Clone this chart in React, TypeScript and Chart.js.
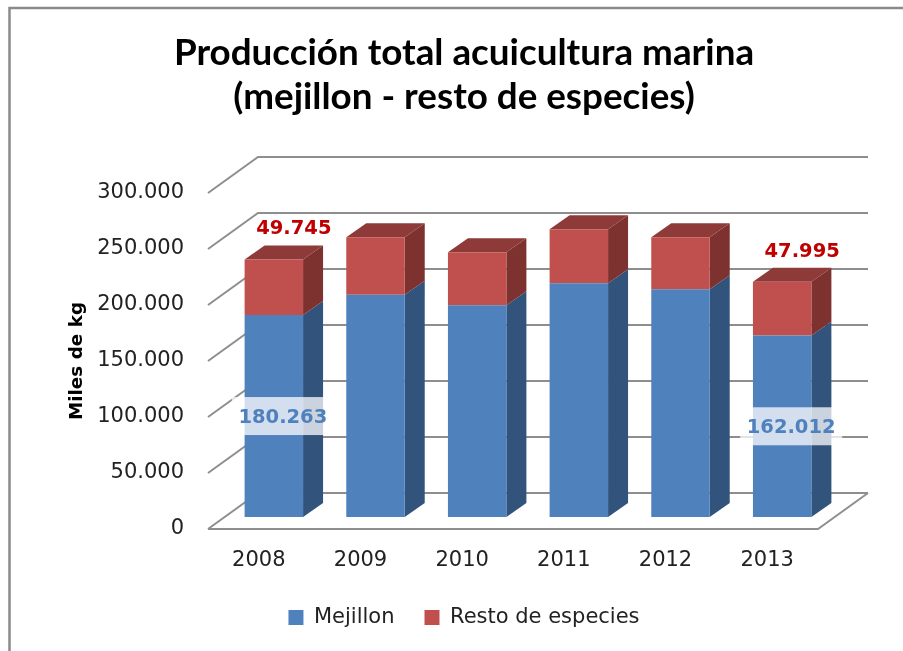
import React, { useEffect, useRef } from "react";
import { Chart, registerables } from "chart.js";

Chart.register(...registerables);

const years = ["2008", "2009", "2010", "2011", "2012", "2013"];
const mejillon = [180263, 198400, 189000, 208700, 203300, 162012];
const resto = [49745, 51400, 47400, 48300, 46500, 47995];
const labelledYears = ["2008", "2013"];
const titleLines = ["Producción total acuicultura marina", "(mejillon - resto de especies)"];

const FONT = "'DejaVu Sans'";
const GRID = "#8e8e8e";
// Oblique projection of the pseudo-3D chart
const WALL = { dx: 50, dy: -36 };
const BAR_SHIFT = { dx: 15, dy: -12 };
const BAR_DEPTH = { dx: 20, dy: -14 };
const FACES = [
  { side: "#32547c", top: "#3f6796" },
  { side: "#7d3230", top: "#8e3a38" },
];

const fmt = (v: number) => String(Math.round(v)).replace(/\B(?=(\d{3})+$)/g, ".");

const poly = (ctx: CanvasRenderingContext2D, pts: number[][], fill: string) => {
  ctx.beginPath();
  pts.forEach(([x, y], i) => (i ? ctx.lineTo(x, y) : ctx.moveTo(x, y)));
  ctx.closePath();
  ctx.fillStyle = fill;
  ctx.fill();
};

const frame3d = {
  id: "frame3d",
  beforeDraw(chart: any) {
    const { ctx } = chart;
    ctx.save();
    ctx.strokeStyle = "#8a8a8a";
    ctx.lineWidth = 2.5;
    ctx.beginPath();
    ctx.moveTo(9.5, 651);
    ctx.lineTo(9.5, 8);
    ctx.lineTo(903, 8);
    ctx.stroke();
    ctx.restore();
  },
  beforeDatasetsDraw(chart: any) {
    const { ctx, chartArea, scales } = chart;
    ctx.save();
    ctx.strokeStyle = GRID;
    ctx.lineWidth = 2;
    scales.y.ticks.forEach((t: any) => {
      const y = scales.y.getPixelForValue(t.value);
      ctx.beginPath();
      ctx.moveTo(chartArea.left, y);
      ctx.lineTo(chartArea.left + WALL.dx, y + WALL.dy);
      ctx.lineTo(chartArea.right + WALL.dx, y + WALL.dy);
      ctx.stroke();
    });
    const b = chartArea.bottom;
    ctx.beginPath();
    ctx.moveTo(chartArea.left, b);
    ctx.lineTo(chartArea.right, b);
    ctx.lineTo(chartArea.right + WALL.dx, b + WALL.dy);
    ctx.stroke();
    ctx.restore();

    ctx.save();
    ctx.translate(BAR_SHIFT.dx, BAR_SHIFT.dy);
    chart.data.datasets.forEach((_: any, di: number) => {
      chart.getDatasetMeta(di).data.forEach((bar: any) => {
        const { x, y, base, width } = bar.getProps(["x", "y", "base", "width"]);
        const l = x - width / 2;
        const r = x + width / 2;
        const { dx, dy } = BAR_DEPTH;
        poly(ctx, [[r, y], [r + dx, y + dy], [r + dx, base + dy], [r, base]], FACES[di].side);
        if (di === chart.data.datasets.length - 1) {
          poly(ctx, [[l, y], [l + dx, y + dy], [r + dx, y + dy], [r, y]], FACES[di].top);
        }
      });
    });
  },
  afterDatasetsDraw(chart: any) {
    const { ctx } = chart;
    ctx.restore();
    ctx.save();
    ctx.textAlign = "center";
    ctx.textBaseline = "middle";
    ctx.font = `bold 19.5px ${FONT}`;
    const blue = chart.getDatasetMeta(0).data;
    const red = chart.getDatasetMeta(1).data;
    labelledYears.forEach((yr) => {
      const i = years.indexOf(yr);
      const bb = blue[i].getProps(["x", "y", "base"]);
      const rb = red[i].getProps(["x", "y"]);
      const bx = bb.x + BAR_SHIFT.dx + 9;
      const by = (bb.y + bb.base) / 2 + BAR_SHIFT.dy;
      ctx.fillStyle = "rgba(255,255,255,0.75)";
      ctx.fillRect(bx - 51, by - 19, 102, 38);
      ctx.fillStyle = "#4f81bd";
      ctx.fillText(fmt(mejillon[i]), bx, by + 2);
      ctx.fillStyle = "#c00000";
      ctx.fillText(fmt(resto[i]), rb.x + BAR_SHIFT.dx + 20, rb.y + BAR_SHIFT.dy - 30);
    });
    ctx.restore();
  },
};

export default function App() {
  const ref = useRef<HTMLCanvasElement>(null);
  useEffect(() => {
    document.body.style.margin = "0";
    const chart = new Chart(ref.current!, {
      type: "bar",
      data: {
        labels: years,
        datasets: [
          { label: "Mejillon", data: mejillon, backgroundColor: "#4f81bd", clip: false },
          { label: "Resto de especies", data: resto, backgroundColor: "#c0504d", clip: false },
        ],
      },
      plugins: [frame3d],
      options: {
        responsive: false,
        animation: false,
        layout: { padding: { left: 25, right: 0, top: 0, bottom: 13 } },
        categoryPercentage: 1,
        barPercentage: 0.575,
        plugins: {
          tooltip: { enabled: false },
          title: {
            display: true,
            text: titleLines,
            color: "#000",
            font: { family: "Lato", weight: "bold", size: 36.8, lineHeight: 44 / 36.8 },
            padding: { top: 31, bottom: 74 },
          },
          legend: {
            position: "bottom",
            labels: {
              boxWidth: 15,
              boxHeight: 15,
              padding: 30,
              color: "#222",
              font: { family: FONT, size: 21 },
            },
          },
        },
        scales: {
          x: {
            stacked: true,
            grid: { display: false },
            border: { display: false },
            ticks: { padding: 11, color: "#222", font: { family: FONT, size: 21 } },
            afterFit: (s: any) => { s.height = 48; },
          },
          y: {
            stacked: true,
            min: 0,
            max: 300000,
            grid: { display: false },
            border: { display: false },
            ticks: {
              stepSize: 50000,
              padding: 16,
              color: "#222",
              callback: (v: any) => fmt(Number(v)),
              font: { family: FONT, size: 21 },
            },
            title: {
              display: true,
              text: "Miles de kg",
              color: "#000",
              font: { family: FONT, weight: "bold", size: 18.4 },
              padding: { top: 41, bottom: 0 },
            },
            afterFit: (s: any) => { s.width = 183; },
          },
          pad: {
            type: "linear",
            position: "right",
            display: true,
            grid: { display: false },
            border: { display: false },
            ticks: { display: false },
            afterFit: (s: any) => { s.width = 85; },
          },
        },
      } as any,
    });
    return () => chart.destroy();
  }, []);
  return <canvas ref={ref} width={903} height={651} style={{ display: "block", filter: "blur(0.5px)" }} />;
}
